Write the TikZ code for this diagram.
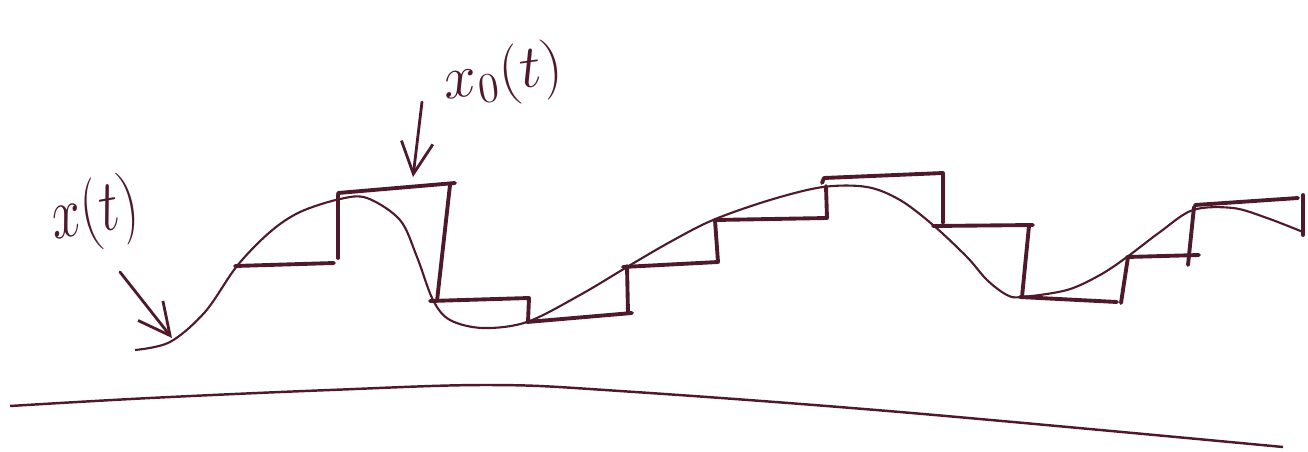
\documentclass[tikz,border=0pt]{standalone}
\usetikzlibrary{arrows.meta}
\definecolor{ink}{RGB}{78,26,42}

\begin{document}
\begin{tikzpicture}
[
	x=0.01cm, y=-0.01cm,
	signal/.style={ink, line width=0.6pt, smooth, tension=0.55},
	held/.style={ink, line width=1.1pt, line cap=round, line join=round},
	pen/.style={ink, line width=0.8pt, line cap=round, -{Straight Barb[length=9pt,width=9pt]}},
	lbl/.style={ink, font=\LARGE, inner sep=0pt},
]
	\useasboundingbox (0,0) rectangle (1308,451);

	% baseline
	\draw[ink, line width=0.7pt] plot[smooth, tension=0.6] coordinates
		{(10,406) (150,398) (330,390) (490,385) (620,391) (900,412) (1283,447)};

	% signal x(t)
	\draw[signal] plot coordinates
		{(135,350) (170,342) (205,312) (237,266) (270,232) (300,212) (340,199)
		 (367,198) (400,220) (417,257) (433,300) (450,320) (483,328) (527,322)
		 (580,295) (627,267) (670,242) (713,220) (770,200) (823,187) (867,187)
		 (900,200) (933,225) (967,257) (987,280) (1007,295) (1022,297) (1067,290)
		 (1100,275) (1127,257) (1160,232) (1193,210) (1233,208) (1267,218) (1303,232)};

	% held signal x_0(t)
	\draw[held] (235,266) -- (334,263);
	\draw[held] (338,258) -- (338,195);
	\draw[held] (338,193) -- (455,183);
	\draw[held] (450,185) -- (437,301);
	\draw[held] (430,301) -- (529,298) -- (528,322);
	\draw[held] (527,322) -- (632,313);
	\draw[held] (628,313) -- (627,266);
	\draw[held] (623,267) -- (718,262) -- (715,220);
	\draw[held] (715,220) -- (827,218) -- (826,186);
	\draw[held] (822,183) -- (824,178) -- (943,173) -- (943,223);
	\draw[held] (933,226) -- (1033,225);
	\draw[held] (1029,226) -- (1022,297);
	\draw[held] (1020,297) -- (1117,302);
	\draw[held] (1121,303) -- (1128,257);
	\draw[held] (1127,257) -- (1199,255);
	\draw[held] (1188,265) -- (1194,207);
	\draw[held] (1195,205) -- (1298,198);
	\draw[held] (1303,195) -- (1303,235);

	% labels
	\node[lbl, font=\huge, rotate=10, xscale=0.75] (xlab) at (95,214) {$x(t)$};
	\node[lbl, rotate=8] (holdlab) at (503,76) {$x_0(t)$};

	\coordinate (xtail) at (120,272);
	\coordinate (xtip) at (172,338);
	\coordinate (holdtail) at (422,102);
	\coordinate (holdtip) at (413,177);

	\draw[pen] (xtail) -- (xtip);
	\draw[pen] (holdtail) -- (holdtip);

\end{tikzpicture}
\end{document}
